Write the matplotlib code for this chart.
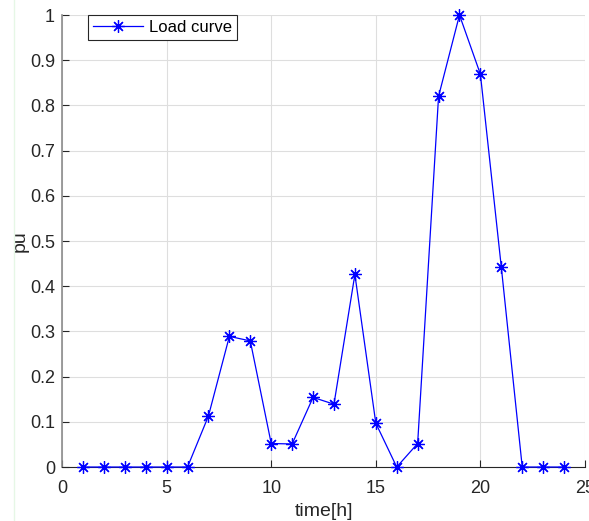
import matplotlib
matplotlib.use('Agg')
import matplotlib.pyplot as plt
from matplotlib.lines import Line2D

# hourly load, per unit
hours = list(range(1, 25))
load_pu = [0, 0, 0, 0, 0, 0, 0.113, 0.289, 0.279, 0.052, 0.051, 0.154,
           0.139, 0.426, 0.097, 0, 0.052, 0.82, 1.0, 0.869, 0.442, 0, 0, 0]
x_ticks = [0, 5, 10, 15, 20, 25]
y_ticks = [0, 0.1, 0.2, 0.3, 0.4, 0.5, 0.6, 0.7, 0.8, 0.9, 1]
y_tick_labels = ['0', '0.1', '0.2', '0.3', '0.4', '0.5', '0.6', '0.7', '0.8', '0.9', '1']

plt.rcParams['font.family'] = ['Liberation Sans', 'DejaVu Sans']

fig = plt.figure(figsize=(5.89, 5.21), dpi=100)
ax = fig.add_axes([0.1053, 0.1036, 0.8879, 0.8676])

# asterisk marker like matlab's '*'
ax.plot(hours, load_pu, color='blue', lw=0.9, marker=(8, 2, 0), markersize=9,
        markeredgewidth=0.9, label='Load curve', clip_on=False, zorder=3)

ax.set_xlim(0, 25)
ax.set_ylim(0, 1)
ax.set_xticks(x_ticks)
ax.set_yticks(y_ticks)
ax.set_yticklabels(y_tick_labels)
ax.grid(True, color='#dedede', lw=0.8)
ax.set_axisbelow(True)

for s in ['top', 'right']:
    ax.spines[s].set_visible(False)
ax.spines['left'].set_color('#8c8c8c')
ax.spines['left'].set_linewidth(1.2)
ax.spines['bottom'].set_color('#262626')
ax.tick_params(direction='in', length=5, labelsize=13, colors='#262626', width=0.8)
ax.tick_params(axis='x', pad=9)
ax.tick_params(axis='y', pad=5)

ax.set_xlabel('time[h]', fontsize=14, color='#262626', labelpad=5)
ax.set_ylabel('pu', fontsize=14, color='#262626', labelpad=1)

leg = ax.legend(loc='upper left', bbox_to_anchor=(0.049, 1.0), fontsize=12,
                fancybox=False, edgecolor='#262626', framealpha=1,
                handlelength=3, borderpad=0.3, borderaxespad=0, handletextpad=0.4)
leg.get_frame().set_linewidth(0.8)

# faint border line at the left of the figure
fig.add_artist(Line2D([14 / 589, 14 / 589], [0, 1], color='#e6f7e6', lw=1))

fig.savefig('out.png', dpi=100)
